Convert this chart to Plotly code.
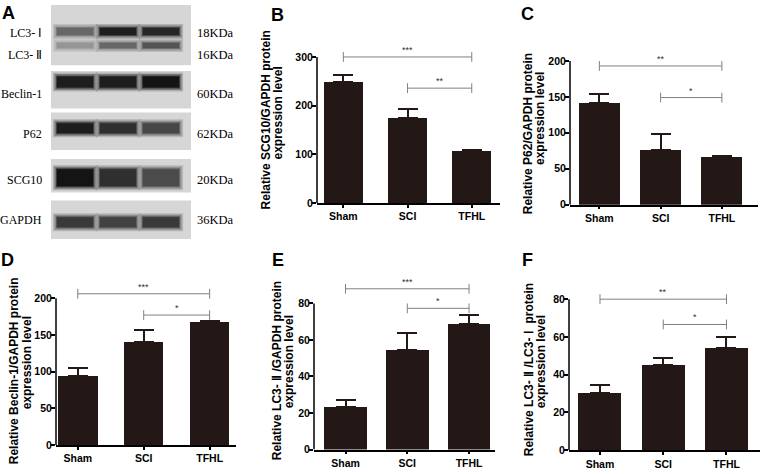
import plotly.graph_objects as go

W, H = 761, 474

# ---- data ----
groups = ["Sham", "SCI", "TFHL"]

scg10_mean = [249, 175, 107]
scg10_sem = [13, 18, 1.5]
scg10_ticks = [0, 100, 200, 300]
scg10_sig = [(0, 2, 300, "***"), (1, 2, 236, "**")]

p62_mean = [142, 76, 66]
p62_sem = [12, 22, 1.5]
p62_ticks = [0, 50, 100, 150, 200]
p62_sig = [(0, 2, 193, "**"), (1, 2, 149, "*")]

beclin_mean = [94, 140, 168]
beclin_sem = [10.5, 17, 1.5]
beclin_ticks = [0, 50, 100, 150, 200]
beclin_sig = [(0, 2, 206, "***"), (1, 2, 177, "*")]

lc3ii_mean = [23.4, 54.4, 68.8]
lc3ii_sem = [3.8, 9.4, 4.7]
lc3ii_ticks = [0, 20, 40, 60, 80]
lc3ii_sig = [(0, 2, 88, "***"), (1, 2, 77.3, "*")]

ratio_mean = [30.3, 45.1, 54.0]
ratio_sem = [4.4, 4.0, 6.1]
ratio_ticks = [0, 20, 40, 60, 80]
ratio_sig = [(0, 2, 80, "**"), (1, 2, 66.6, "*")]

# western blot (panel A): band darkness per lane
blot_names = ["LC3- Ⅰ", "LC3- Ⅱ", "Beclin-1", "P62", "SCG10", "GAPDH"]
blot_kda = ["18KDa", "16KDa", "60KDa", "62KDa", "20KDa", "36KDa"]
band_intensity = [
    [0.55, 0.95, 0.9],
    [0.3, 0.55, 0.65],
    [0.95, 0.95, 1.0],
    [0.95, 0.85, 0.72],
    [1.0, 0.85, 0.7],
    [0.8, 0.75, 0.8],
]

# ---- layout helpers (pixel geometry of the original figure) ----
def fx(p):
    return p / W

def fy(p):
    return 1 - p / H

BAR = "#231815"
SIG = "#808080"
TICKF = dict(family="Arial", size=10.5, color="black", weight="bold")
TITLEF = dict(family="Arial", size=12, color="black", weight="bold")
LETTERF = dict(family="Arial", size=18, color="black", weight="bold")

fig = go.Figure()
shapes = []
annotations = []

panels = [
    dict(letter="B", mean=scg10_mean, sem=scg10_sem, sig=scg10_sig, ticks=scg10_ticks,
         title=["Relative SCG10/GAPDH protein", "expression level"],
         box=(317, 500, 205.7, 57.7), xr=[-0.41, 2.44], bw=0.6,
         tpos=[(266, 122), (278, 115)], lpos=(269, 3)),
    dict(letter="C", mean=p62_mean, sem=p62_sem, sig=p62_sig, ticks=p62_ticks,
         title=["Relative P62/GAPDH protein", "expression level"],
         box=(570, 758, 207.3, 61.7), xr=[-0.48, 2.59], bw=0.67,
         tpos=[(528, 136), (540.5, 120)], lpos=(519, 2)),
    dict(letter="D", mean=beclin_mean, sem=beclin_sem, sig=beclin_sig, ticks=beclin_ticks,
         title=["Relative Beclin-1/GAPDH protein", "expression level"],
         box=(56, 236, 450.7, 302), xr=[-0.33, 2.40], bw=0.6,
         tpos=[(14, 376), (27, 368)], lpos=(-1, 251)),
    dict(letter="E", mean=lc3ii_mean, sem=lc3ii_sem, sig=lc3ii_sig, ticks=lc3ii_ticks,
         title=["Relative LC3- Ⅱ /GAPDH protein", "expression level"],
         box=(314, 495, 455.3, 307.3), xr=[-0.51, 2.42], bw=0.69,
         tpos=[(277, 376), (289, 367)], lpos=(270, 251)),
    dict(letter="F", mean=ratio_mean, sem=ratio_sem, sig=ratio_sig, ticks=ratio_ticks,
         title=["Relative LC3- Ⅱ /LC3- Ⅰ  protein", "expression level"],
         box=(569, 760, 456, 303), xr=[-0.49, 2.53], bw=0.68,
         tpos=[(529, 375), (541, 367)], lpos=(520, 251)),
]

for k, p in enumerate(panels, start=2):
    xa, ya = f"x{k}", f"y{k}"
    left, right, bottom, top = p["box"]
    ymax = p["ticks"][-1]
    scale = (bottom - top) / ymax  # px per unit
    rtop = max(ymax, max(s[2] for s in p["sig"])) + 6 / scale
    dom_top = bottom - rtop * scale

    fig.add_trace(go.Bar(
        x=groups, y=p["mean"], width=p["bw"], marker_color=BAR, marker_line_width=0,
        error_y=dict(type="data", symmetric=False, array=p["sem"], arrayminus=[0] * 3,
                     thickness=2, width=10, color=BAR),
        xaxis=xa, yaxis=ya, showlegend=False))

    for i, j, h, lab in p["sig"]:
        fig.add_trace(go.Scatter(
            x=[groups[i], groups[j]], y=[h, h], mode="lines+markers",
            line=dict(color=SIG, width=1),
            marker=dict(symbol="line-ns-open", size=7, line=dict(color=SIG, width=1)),
            xaxis=xa, yaxis=ya, showlegend=False, hoverinfo="skip"))
        annotations.append(dict(
            x=(i + j) / 2, y=h, xref=xa, yref=ya, text=lab, showarrow=False,
            yanchor="bottom", font=dict(family="Arial", size=9, color="#333333")))

    fig.layout[f"xaxis{k}"] = dict(
        domain=[fx(left), fx(right)], anchor=ya, range=p["xr"], type="category",
        showline=True, linecolor="black", linewidth=1.5, ticks="outside", ticklen=3,
        tickwidth=1.5, tickcolor="black", tickfont=TICKF,
        showgrid=False, zeroline=False)
    fig.layout[f"yaxis{k}"] = dict(
        domain=[fy(bottom), fy(dom_top)], anchor=xa, range=[0, rtop],
        tickvals=p["ticks"], showline=False, ticks="outside", ticklen=4, tickwidth=1.5,
        tickcolor="black", tickfont=TICKF, ticklabelstandoff=-3,
        showgrid=False, zeroline=False)

    # y spine only up to the top tick
    shapes.append(dict(type="line", xref=f"{xa} domain", yref=ya, x0=0, x1=0, y0=0, y1=ymax,
                       line=dict(color="black", width=1.5)))

    for line_text, (tx, ty) in zip(p["title"], p["tpos"]):
        annotations.append(dict(x=fx(tx), y=fy(ty), xref="paper", yref="paper", text=line_text,
                                textangle=-90, showarrow=False, xanchor="center",
                                yanchor="middle", font=TITLEF))
    lx, ly = p["lpos"]
    annotations.append(dict(x=fx(lx), y=fy(ly), xref="paper", yref="paper", text=p["letter"],
                            xanchor="left", yanchor="top", showarrow=False, font=LETTERF))

# ---- panel A: blot drawn on its own axes (lanes on x, pixel rows on y) ----
strips = [(5, 66), (72, 110), (114, 152), (161, 195), (203, 242)]
band_rows = [32, 46, 83, 130, 180, 225]
band_heights = [7, 5, 11, 10, 17, 10]
label_rows = [33, 56, 95, 136, 182, 223]

fig.layout["xaxis"] = dict(domain=[fx(51), fx(191)], range=[-0.56, 2.70], visible=False, anchor="y")
fig.layout["yaxis"] = dict(domain=[fy(242), fy(5)], range=[242, 5], visible=False, anchor="x")
fig.add_trace(go.Scatter(x=[0, 1, 2], y=[band_rows[0]] * 3, mode="markers", marker=dict(opacity=0),
                         xaxis="x", yaxis="y", showlegend=False, hoverinfo="skip"))

for y0, y1 in strips:
    shapes.append(dict(type="rect", xref="x", yref="y", x0=-0.56, x1=2.70, y0=y0, y1=y1,
                       fillcolor="#d6d6d6", line=dict(width=0), layer="below"))

for r, row in enumerate(band_intensity):
    for lane, v in enumerate(row):
        g = int(205 - v * 185)
        for grow, op in ((8, 0.2), (5, 0.35), (2, 0.6), (0, 1.0)):
            shapes.append(dict(type="line", xref="x", yref="y",
                               x0=lane - 0.42 - grow * 0.012, x1=lane + 0.42 + grow * 0.012,
                               y0=band_rows[r], y1=band_rows[r], opacity=op,
                               line=dict(color=f"rgb({g},{g},{g})", width=band_heights[r] + grow)))

for name, kda, yr in zip(blot_names, blot_kda, label_rows):
    annotations.append(dict(x=fx(44), y=yr, xref="paper", yref="y", text=name, xanchor="right",
                            yanchor="middle", showarrow=False,
                            font=dict(family="Times New Roman", size=12, color="black")))
    annotations.append(dict(x=fx(195), y=yr, xref="paper", yref="y", text=kda, xanchor="left",
                            yanchor="middle", showarrow=False,
                            font=dict(family="Times New Roman", size=12.5, color="black")))

annotations.append(dict(x=fx(0), y=fy(1), xref="paper", yref="paper", text="A", xanchor="left",
                        yanchor="top", showarrow=False, font=LETTERF))

fig.update_layout(
    width=W, height=H, margin=dict(l=0, r=0, t=0, b=0),
    paper_bgcolor="white", plot_bgcolor="white", showlegend=False,
    shapes=shapes, annotations=annotations, bargap=0,
)

# page body margin would push the 761x474 figure off the window
fig.write_html("out.html", config={"displayModeBar": False},
               post_script="document.body.style.margin='0';")
